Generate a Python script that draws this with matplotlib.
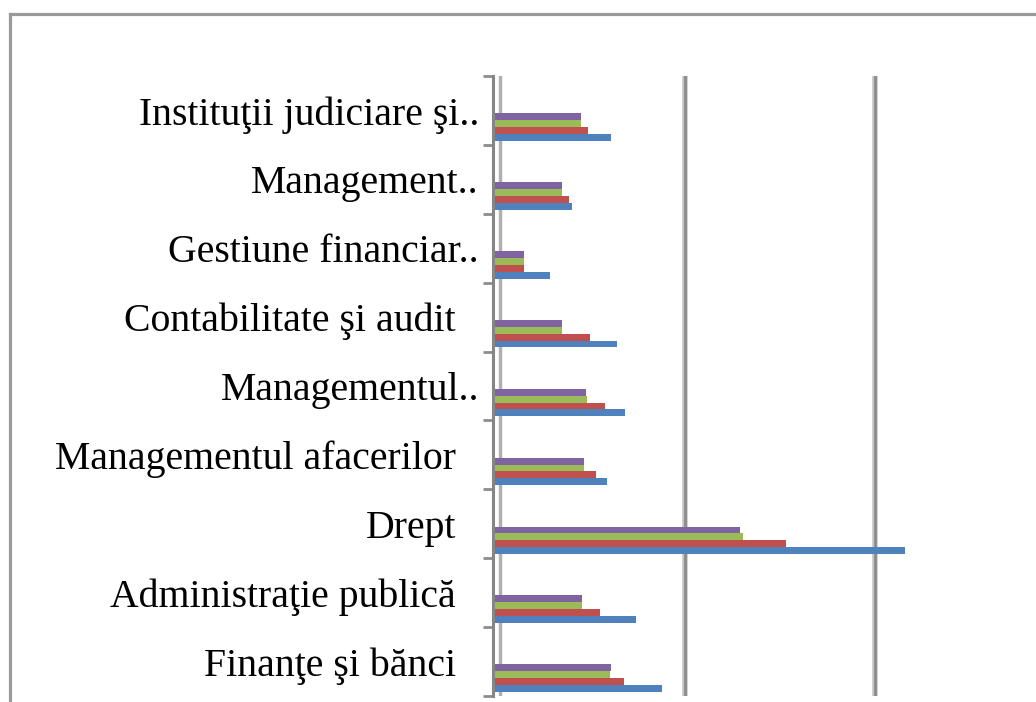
import matplotlib
matplotlib.use("Agg")
import matplotlib.pyplot as plt
import matplotlib.transforms as mtransforms
from matplotlib.lines import Line2D
import numpy as np

# categories bottom -> top
categories = [
    "Finanţe şi bănci",
    "Administraţie publică",
    "Drept",
    "Managementul afacerilor",
    "Managementul..",
    "Contabilitate şi audit",
    "Gestiune financiar..",
    "Management..",
    "Instituţii judiciare şi..",
]
series_blue = [88, 74, 216, 59, 68.5, 64, 29, 40.5, 61]
series_red = [68, 55, 153, 53, 58, 50, 15, 39, 49]
series_green = [60.5, 46, 130.5, 47, 48.5, 35, 15, 35, 45]
series_purple = [61, 46, 129, 47, 48, 35, 15.3, 35, 45]

x_ticks = [0, 100, 200, 300]

colors = ["#4F81BD", "#C0504D", "#9BBB59", "#8064A2"]

W, H = 1036, 702
fig = plt.figure(figsize=(W / 100, H / 100), dpi=100)
fig.patch.set_facecolor("white")

# axes placed in pixel terms
ax_left, ax_right, ax_top, ax_bottom = 495, 1065, 76, 696
ax = fig.add_axes([ax_left / W, (H - ax_bottom) / H,
                   (ax_right - ax_left) / W, (ax_bottom - ax_top) / H])

y = np.arange(len(categories))
h = 0.1
offsets = [-0.39, -0.29, -0.19, -0.09]
all_series = [series_blue, series_red, series_green, series_purple]
for vals, off, c in zip(all_series, offsets, colors):
    ax.barh(y + off, vals, height=h, color=c, zorder=3, linewidth=0)

ax.set_xlim(x_ticks[0], x_ticks[-1])
ax.set_ylim(-0.5, len(categories) - 0.5)

# gridlines
for xv in x_ticks[1:]:
    ax.axvline(xv, color="#c4c4c4", lw=4.0, zorder=1)
    ax.axvline(xv, color="#8c8c8c", lw=2.0, zorder=1.5)
# faint zero gridline slightly right of axis
zero_tr = ax.get_xaxis_transform() + mtransforms.ScaledTranslation(5 / 100, 0, fig.dpi_scale_trans)
ax.plot([0, 0], [0, 1], transform=zero_tr, color="#b0b0b0", lw=2.5, zorder=1)

ax.set_xticks([])
ax.set_yticks(np.arange(-0.5, len(categories), 1.0))
ax.set_yticklabels([])
ax.tick_params(axis="y", length=7.5, width=2.0, color="#8c8c8c", direction="out")

for s in ["top", "right", "bottom"]:
    ax.spines[s].set_visible(False)
ax.spines["left"].set_color("#868686")
ax.spines["left"].set_linewidth(2.2)
ax.spines["left"].set_position(("outward", 1.2))
ax.patch.set_alpha(0)

# category labels
base_tr = ax.get_yaxis_transform()
for i, lab in enumerate(categories):
    if lab.endswith(".."):
        dx = -16
    else:
        dx = -39
    tr = base_tr + mtransforms.ScaledTranslation(dx / 100, 0, fig.dpi_scale_trans)
    ax.text(0, i, lab, transform=tr, ha="right", va="center_baseline",
            fontsize=28.6, family=["Liberation Serif", "DejaVu Serif"], color="black")

# outer border (left and top only visible; cropped on right/bottom)
fig.add_artist(Line2D([9.5 / W, 9.5 / W], [0, (H - 13.5) / H], transform=fig.transFigure,
                      color="#9a9a9a", lw=2.3))
fig.add_artist(Line2D([9.5 / W, 1.0], [(H - 13.5) / H, (H - 13.5) / H], transform=fig.transFigure,
                      color="#9a9a9a", lw=2.3))

fig.savefig("out.png", dpi=100)
